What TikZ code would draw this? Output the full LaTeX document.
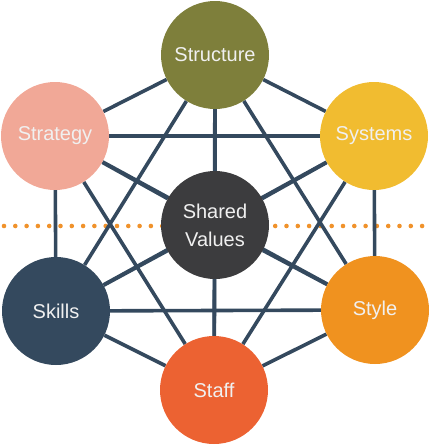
\documentclass[tikz,border=0pt]{standalone}
\usepackage{fontspec}
\setmainfont{Liberation Sans}
\usetikzlibrary{backgrounds,positioning}

\definecolor{structureC}{HTML}{7E7F3B}
\definecolor{strategyC}{HTML}{F1A897}
\definecolor{systemsC}{HTML}{F1BC30}
\definecolor{valuesC}{HTML}{3C3C3E}
\definecolor{skillsC}{HTML}{34495E}
\definecolor{styleC}{HTML}{F0921F}
\definecolor{staffC}{HTML}{EC6232}
\definecolor{linkC}{HTML}{34495E}
\definecolor{dotC}{HTML}{F0922B}

\begin{document}
\begin{tikzpicture}[x=1pt, y=-1pt, align=center]

%local definitions
\tikzstyle{Element} = [circle, minimum size=108pt, inner sep=0pt, text=white!94!black, font=\fontsize{20}{28}\selectfont]
\tikzstyle{Link} = [draw=linkC, line width=3.6pt]
\tikzstyle{Divider} = [draw=dotC, line width=4.6pt, line cap=round, dash pattern=on 0pt off 11.3pt]

\useasboundingbox (0,0) rectangle (430,445);

%main nodes
	\node [Element, fill=structureC] (Structure) at (215,55) {Structure};
	\node [Element, fill=strategyC] (Strategy) at (55,136) {Strategy};
	\node [Element, fill=systemsC] (Systems) at (374,136) {Systems};
	\node [Element, fill=valuesC] (Values) at (215,225) {Shared\\Values};
	\node [Element, fill=skillsC] (Skills) at (56,311) {Skills};
	\node [Element, fill=styleC] (Style) at (375,310) {Style};
	\node [Element, fill=staffC] (Staff) at (214,390) {Staff};

%connections
\begin{scope}[on background layer]
	\coordinate (DivLeft) at (4,226);
	\coordinate (DivRight) at (428,226);
	\draw [Divider] (DivLeft) -- (DivRight);

	\draw [Link] (Structure) -- (Strategy);
	\draw [Link] (Structure) -- (Systems);
	\draw [Link] (Structure) -- (Values);
	\draw [Link] (Structure) -- (Skills);
	\draw [Link] (Structure) -- (Style);
	\draw [Link] (Structure) -- (Staff);
	\draw [Link] (Strategy) -- (Systems);
	\draw [Link] (Strategy) -- (Values);
	\draw [Link] (Strategy) -- (Skills);
	\draw [Link] (Strategy) -- (Style);
	\draw [Link] (Strategy) -- (Staff);
	\draw [Link] (Systems) -- (Values);
	\draw [Link] (Systems) -- (Skills);
	\draw [Link] (Systems) -- (Style);
	\draw [Link] (Systems) -- (Staff);
	\draw [Link] (Values) -- (Skills);
	\draw [Link] (Values) -- (Style);
	\draw [Link] (Values) -- (Staff);
	\draw [Link] (Skills) -- (Style);
	\draw [Link] (Skills) -- (Staff);
	\draw [Link] (Style) -- (Staff);
\end{scope}

\end{tikzpicture}
\end{document}
